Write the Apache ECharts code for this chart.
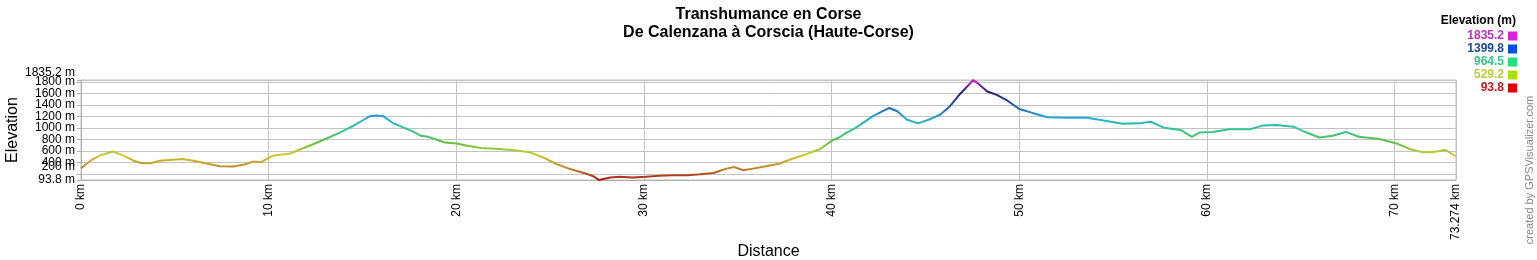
<!DOCTYPE html>
<html><head><meta charset="utf-8">
<script src="https://cdn.jsdelivr.net/npm/echarts@6/dist/echarts.min.js"></script>
<style>html,body{margin:0;padding:0;background:#fff}#c{width:1537px;height:260px}</style>
</head><body><div id="c"></div>
<script>
// ---- data ----
const distKm = [0, 0.5, 1.0, 1.7, 2.3, 2.8, 3.2, 3.7, 4.2, 4.7, 5.4, 6.0, 6.7, 7.4, 8.1, 8.7, 9.2, 9.6, 9.9, 10.2, 10.6, 11.1, 11.7, 12.4, 13.1, 13.8, 14.5, 15.0, 15.4, 15.75, 16.1, 16.6, 17.2, 17.7, 18.1, 18.5, 19.0, 19.4, 20.0, 20.6, 21.3, 22.3, 23.2, 23.9, 24.6, 25.3, 26.0, 26.8, 27.3, 27.6, 28.2, 28.7, 29.4, 30.1, 30.8, 31.5, 32.3, 33.0, 33.7, 34.4, 34.8, 35.3, 35.8, 36.5, 37.2, 37.9, 38.6, 39.4, 40.0, 40.4, 40.8, 41.3, 42.2, 43.07, 43.5, 44.0, 44.6, 45.2, 45.8, 46.3, 46.8, 47.3, 47.55, 47.8, 48.3, 48.8, 49.3, 50.0, 50.7, 51.5, 52.5, 53.6, 54.5, 55.5, 56.4, 57.0, 57.7, 58.6, 59.2, 59.6, 60.3, 61.2, 62.3, 63.0, 63.7, 64.6, 65.3, 66.0, 66.7, 67.4, 68.1, 69.2, 70.1, 70.8, 71.5, 72.0, 72.7, 73.274];
const elevM = [300, 430, 520, 590, 515, 430, 390, 385, 430, 440, 460, 430, 380, 335, 330, 365, 415, 405, 460, 515, 535, 550, 630, 720, 820, 920, 1035, 1130, 1205, 1215, 1205, 1090, 1005, 935, 865, 845, 790, 745, 730, 690, 650, 634, 606, 577, 491, 377, 292, 217, 160, 93.8, 137, 150, 137, 149, 166, 177, 177, 195, 217, 292, 320, 263, 292, 332, 377, 463, 537, 634, 777, 834, 920, 1005, 1205, 1348, 1291, 1148, 1080, 1148, 1234, 1377, 1576, 1748, 1835.2, 1776, 1634, 1576, 1491, 1330, 1262, 1188, 1177, 1177, 1131, 1074, 1080, 1108, 1005, 965, 846, 920, 931, 977, 977, 1045, 1051, 1023, 920, 834, 863, 931, 846, 806, 731, 634, 577, 577, 617, 503];
const xTicks = [0, 10, 20, 30, 40, 50, 60, 70, 73.274];
const yTicks = [93.8, 200, 400, 600, 800, 1000, 1200, 1400, 1600, 1800, 1835.2];
// y tick labels split into groups so that no two labels of one group touch
const yLabelsA = [400, 800, 1200, 1600];
const yLabelsB = [93.8, 600, 1000, 1400, 1800];
const yLabelsRaised = [200, 1835.2];
const legendValues = ['1835.2', '1399.8', '964.5', '529.2', '93.8'];
const legendTextColors = ['#c030c0', '#1a4a9a', '#33c888', '#bccc3c', '#b82020'];
const legendBoxColors = ['#e020e0', '#0050e0', '#20e080', '#a8e000', '#e00000'];
const lineColors = ['#a81818', '#c08a2a', '#d0cc30', '#60c040', '#30c890', '#28a8d8', '#2050b0', '#201c70', '#c828c8'];
const yMin = 93.8, yMax = 1835.2, xMax = 73.274;
const titleText = 'Transhumance en Corse\nDe Calenzana à Corscia (Haute-Corse)';
const legendTitle = 'Elevation (m)';
const creditText = 'created by GPSVisualizer.com';

// ---- chart ----
const FONT = "'Liberation Sans', Arial, sans-serif";
const chart = echarts.init(document.getElementById('c'), null, {renderer: 'canvas'});
const graphics = [];
graphics.push({type: 'text', x: 1516, y: 21, style: {text: legendTitle, fill: '#000', font: 'bold 12px ' + FONT, align: 'right', verticalAlign: 'middle'}});
legendValues.forEach((v, i) => {
  const cy = 36 + i * 13;
  graphics.push({type: 'text', x: 1504, y: cy, style: {text: v, fill: legendTextColors[i], font: 'bold 12px ' + FONT, align: 'right', verticalAlign: 'middle'}});
  graphics.push({type: 'rect', shape: {x: 1508, y: cy - 4.5, width: 9, height: 9}, style: {fill: legendBoxColors[i]}});
});
graphics.push({type: 'text', x: 1530, y: 170, rotation: Math.PI / 2, style: {text: creditText, fill: '#888', font: '11px ' + FONT, align: 'center', verticalAlign: 'middle'}});

const labelAxis = (vals, extra) => Object.assign({
  type: 'value', min: yMin, max: yMax, position: 'left', offset: 0,
  axisLine: {show: false}, axisTick: {show: false}, splitLine: {show: false},
  axisLabel: Object.assign({customValues: vals, margin: 6, fontFamily: FONT, fontSize: 12, color: '#000', showMinLabel: true, showMaxLabel: true, hideOverlap: false, formatter: v => v + ' m'}, extra || {})
});

const yMain = labelAxis(yLabelsA);
Object.assign(yMain, {
  name: 'Elevation', nameLocation: 'middle', nameGap: 60, nameMoveOverlap: false,
  nameTextStyle: {fontFamily: FONT, fontSize: 16, color: '#000'},
  axisLine: {show: true, lineStyle: {color: '#b0b0b0'}},
  axisTick: {show: true, customValues: yTicks, length: 4, lineStyle: {color: '#b0b0b0'}},
  splitLine: {show: true, lineStyle: {color: '#c4c4c4', width: 1}}
});

chart.setOption({
  animation: false,
  backgroundColor: '#fff',
  title: {text: titleText, left: 'center', top: 1, textStyle: {fontFamily: FONT, fontSize: 16, fontWeight: 'bold', color: '#000', lineHeight: 18}},
  grid: {left: 81, right: 81, top: 80, height: 100, show: true, borderColor: '#c0c0c0', borderWidth: 1, containLabel: false, outerBoundsMode: 'none'},
  visualMap: {show: false, type: 'continuous', dimension: 1, min: yMin, max: yMax, seriesIndex: 0, inRange: {color: lineColors}},
  xAxis: {
    type: 'value', min: 0, max: xMax,
    name: 'Distance', nameLocation: 'middle', nameGap: 64, nameMoveOverlap: false,
    nameTextStyle: {fontFamily: FONT, fontSize: 16, color: '#000'},
    axisLine: {show: true, lineStyle: {color: '#b0b0b0'}},
    axisTick: {show: false, customValues: xTicks},
    axisLabel: {customValues: xTicks, rotate: 90, margin: 4, fontFamily: FONT, fontSize: 12, color: '#000', hideOverlap: false, showMinLabel: true, showMaxLabel: true, formatter: v => v + ' km'},
    splitLine: {show: true, lineStyle: {color: '#c4c4c4', width: 1}}
  },
  yAxis: [
    yMain,
    labelAxis(yLabelsB),
    labelAxis(yLabelsRaised, {verticalAlign: 'bottom', lineHeight: 14})
  ],
  series: [{
    type: 'line', yAxisIndex: 0, showSymbol: false, symbol: 'none', smooth: false,
    lineStyle: {width: 2},
    data: distKm.map((d, i) => [d, elevM[i]])
  }],
  graphic: graphics
});
</script>
</body></html>
